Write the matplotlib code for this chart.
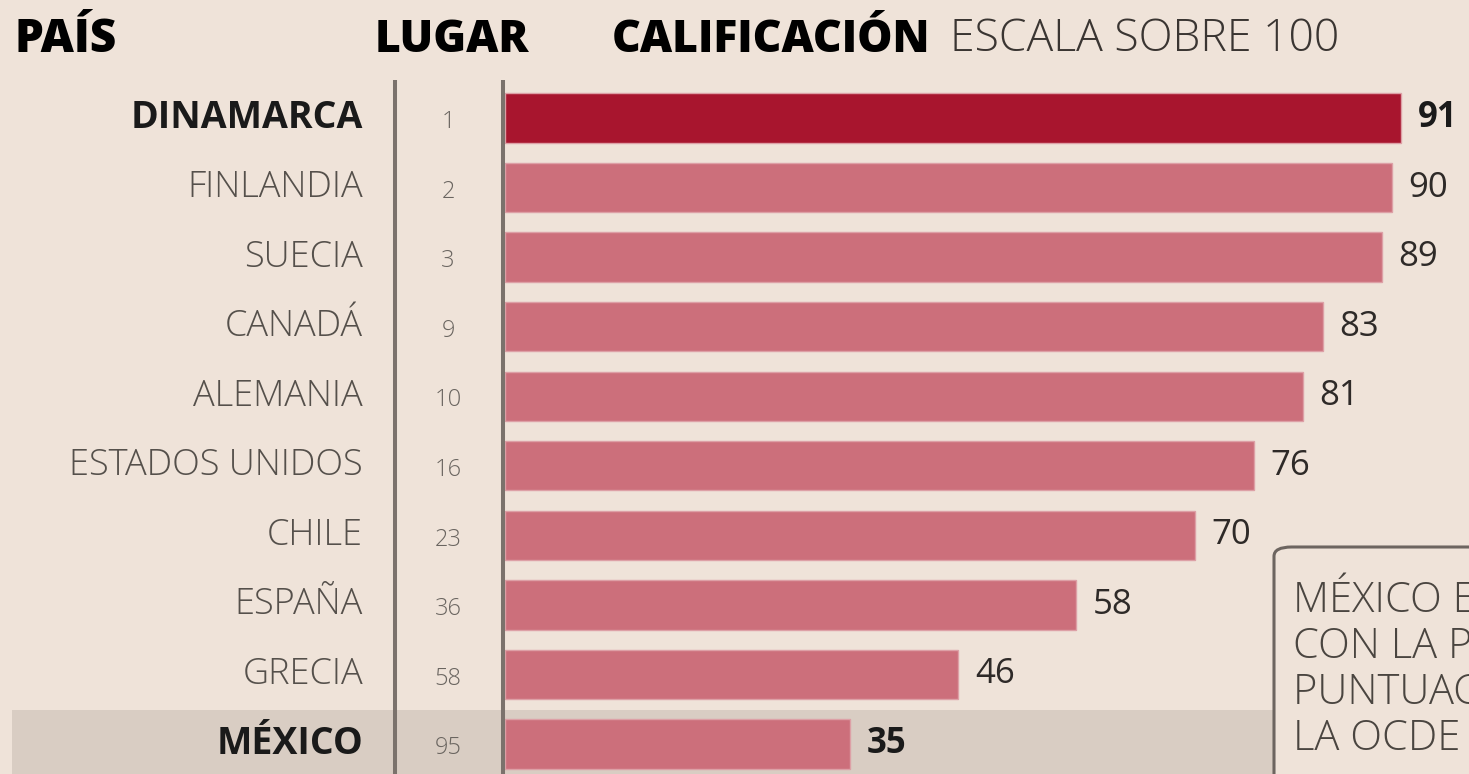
import matplotlib.pyplot as plt
import matplotlib.transforms as mtransforms
from matplotlib.patches import FancyBboxPatch

paises = ['DINAMARCA', 'FINLANDIA', 'SUECIA', 'CANADÁ', 'ALEMANIA',
          'ESTADOS UNIDOS', 'CHILE', 'ESPAÑA', 'GRECIA', 'MÉXICO']
lugares = [1, 2, 3, 9, 10, 16, 23, 36, 58, 95]
calificacion = [91, 90, 89, 83, 81, 76, 70, 58, 46, 35]
destacados = ['DINAMARCA', 'MÉXICO']
nota = 'MÉXICO ES EL PAÍS\nCON LA PEOR\nPUNTUACIÓN DE\nLA OCDE'

W, H = 1469, 774
fondo = '#efe3d9'
rosa = '#cc6f7b'
rojo = '#a8152e'
gris_linea = '#7b726c'
plt.rcParams['font.family'] = ['Open Sans', 'DejaVu Sans']

fig = plt.figure(figsize=(W / 100, H / 100), dpi=100, facecolor=fondo)
ax = fig.add_axes([0, 0, 1, (H - 80) / H])
ax.set_facecolor(fondo)

# escala: 0 en x=505 px, ~9.85 px por punto
px = 9.85
ax.set_xlim(-505 / px, (W - 505) / px)
row = 69.56
ax.set_ylim(len(paises) - 1 + 30 / row, -38 / row)
ax.axis('off')

y = list(range(len(paises)))
colores = [rojo if i == 0 else rosa for i in y]
ax.barh(y, calificacion, height=0.71, color=colores, edgecolor='#dda0a6',
        linewidth=1, zorder=3)

# franja de México
im = paises.index('MÉXICO')
ax.axhspan(im - 0.49, im + 0.6, xmin=12 / W, xmax=1275 / W, color='#d9cdc3',
           zorder=1, lw=0)

# líneas verticales
for xp in [395, 503]:
    ax.axvline((xp - 505) / px, color=gris_linea, lw=2.9, zorder=4)

tr = mtransforms.blended_transform_factory(fig.transFigure, ax.transData)
for i, (p, l, c) in enumerate(zip(paises, lugares, calificacion)):
    bold = p in destacados
    ax.text(363 / W, i, p, transform=tr, ha='right', va='center',
            fontsize=27 if bold else 26, fontweight='bold' if bold else 'light',
            color='#1a1a1a' if bold else '#55504b', zorder=5)
    ax.text(448 / W, i + 0.06, str(l), transform=tr, ha='center', va='center',
            fontsize=17, fontweight='light', color='#6a6560', zorder=5)
    ax.text(c + 1.7, i, str(c), ha='left', va='center', fontsize=25,
            fontweight='bold' if bold else 'normal',
            color='#1a1a1a' if bold else '#2e2a28', zorder=5)

# encabezados
yh = 1 - 40 / H
fig.text(15 / W, yh, 'PAÍS', fontsize=33, fontweight='heavy', va='center')
fig.text(375 / W, yh, 'LUGAR', fontsize=32, fontweight='heavy', va='center')
fig.text(612 / W, yh, 'CALIFICACIÓN', fontsize=32, fontweight='heavy',
         va='center')
fig.text(950 / W, yh, 'ESCALA SOBRE 100', fontsize=32, fontweight='light',
         color='#3a3532', va='center')

# recuadro de nota
caja = FancyBboxPatch((1274 / W, -0.2), 0.3, (H - 547) / H + 0.2,
                      boxstyle='round,pad=0,rounding_size=0.012',
                      transform=fig.transFigure, facecolor=fondo,
                      edgecolor='#6d6560', lw=2.2, zorder=6)
fig.patches.append(caja)
fig.text(1293 / W, 1 - 580 / H, nota, fontsize=30, fontweight='light',
         color='#4a4540', va='top', ha='left', linespacing=1.1, zorder=7)

fig.savefig('out.png', dpi=100, facecolor=fondo)
